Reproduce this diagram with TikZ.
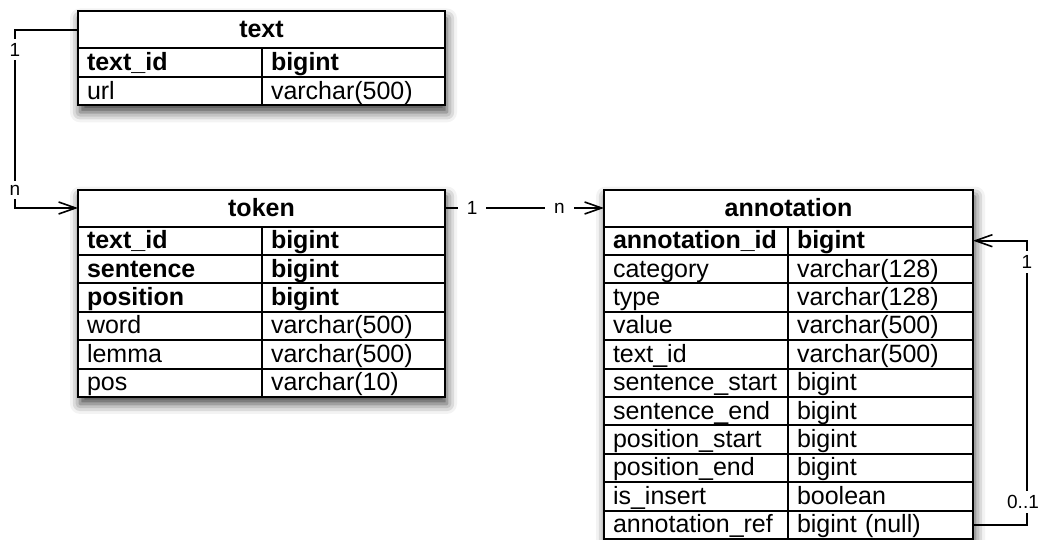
\documentclass[tikz,border=0pt]{standalone}
\usepackage{fontspec}
\setmainfont{Liberation Sans}
\usetikzlibrary{arrows.meta,shadows.blur,fit,backgrounds}

\tikzset{
  cell/.style={draw, line width=2pt, anchor=north west, minimum height=28.4pt, outer sep=0pt,
    inner xsep=9pt, inner ysep=0pt, text height=18pt, text depth=2pt, align=left},
  keycol/.style={cell, text width=166pt},
  typecol/.style={cell, text width=165pt},
  head/.style={draw, line width=2pt, anchor=north west, minimum height=37pt, outer sep=0pt,
    inner sep=0pt, text height=19pt, text depth=3pt, font=\bfseries},
  tblshadow/.style={fill=white, inner sep=0pt,
    blur shadow={shadow xshift=2pt, shadow yshift=-7pt, shadow blur radius=10pt, shadow opacity=75}},
  link/.style={line width=1.6pt, -{Straight Barb[length=17pt, width=12pt, line width=1.6pt]}},
  lbl/.style={fill=white, inner xsep=4pt, inner ysep=4pt, font=\fontsize{19}{22}\selectfont}
}

\begin{document}
\fontsize{25}{29}\selectfont
\begin{tikzpicture}[x=1pt, y=-1pt]
	\useasboundingbox (0,0) rectangle (1043,540);

	% Table text
	\node[head, minimum width=367pt] (text) at (78,11.5) {text};
	\foreach \k/\t/\wt [count=\i] in {text\_id/bigint/\bfseries, url/varchar(500)/\mdseries}{
		\node[keycol, font=\wt] (text-\i-k) at ([yshift={-(\i-1)*28.4pt}]text.south west) {\k};
		\node[typecol, font=\wt] (text-\i-t) at (text-\i-k.north east) {\t};
	}

	% Table token
	\node[head, minimum width=367pt] (token) at (78,189.5) {token};
	\foreach \k/\t/\wt [count=\i] in {text\_id/bigint/\bfseries, sentence/bigint/\bfseries,
			position/bigint/\bfseries, word/varchar(500)/\mdseries,
			lemma/varchar(500)/\mdseries, pos/varchar(10)/\mdseries}{
		\node[keycol, font=\wt] (token-\i-k) at ([yshift={-(\i-1)*28.4pt}]token.south west) {\k};
		\node[typecol, font=\wt] (token-\i-t) at (token-\i-k.north east) {\t};
	}

	% Table annotation
	\node[head, minimum width=369pt] (annotation) at (604,189.5) {annotation};
	\foreach \k/\t/\wt [count=\i] in {annotation\_id/bigint/\bfseries,
			category/varchar(128)/\mdseries, type/varchar(128)/\mdseries,
			value/varchar(500)/\mdseries, text\_id/varchar(500)/\mdseries,
			sentence\_start/bigint/\mdseries, sentence\_end/bigint/\mdseries,
			position\_start/bigint/\mdseries, position\_end/bigint/\mdseries,
			is\_insert/boolean/\mdseries, annotation\_ref/bigint (null)/\mdseries}{
		\node[keycol, font=\wt] (ann-\i-k) at ([yshift={-(\i-1)*28.4pt}]annotation.south west) {\k};
		\node[typecol, text width=167pt, font=\wt] (ann-\i-t) at (ann-\i-k.north east) {\t};
	}

	% Shadows behind the tables
	\begin{scope}[on background layer]
		\node[tblshadow, fit=(text)(text-2-t)] (text-bg) {};
		\node[tblshadow, fit=(token)(token-6-t)] (token-bg) {};
		\node[tblshadow, fit=(annotation)(ann-11-t)] (ann-bg) {};
	\end{scope}

	% Relations
	\draw[link] (text.west) -- ++(-63,0) coordinate (c1)
		-- node[lbl, pos=0.11] (l1) {1} node[lbl, pos=0.9] (l2) {n} (c1 |- token.west)
		-- (token.west);
	\draw[link] (token.east)
		-- node[lbl, inner xsep=9pt, pos=0.17] (l3) {1} node[lbl, inner xsep=9pt, pos=0.72] (l4) {n}
		(annotation.west);
	\draw[link] (ann-11-t.east) -- ++(54,0) coordinate (c2)
		-- node[lbl, inner xsep=1pt, xshift=-4pt, pos=0.08] (l5) {0..1} node[lbl, pos=0.925] (l6) {1} (c2 |- ann-1-t.east)
		-- (ann-1-t.east);

\end{tikzpicture}
\end{document}
